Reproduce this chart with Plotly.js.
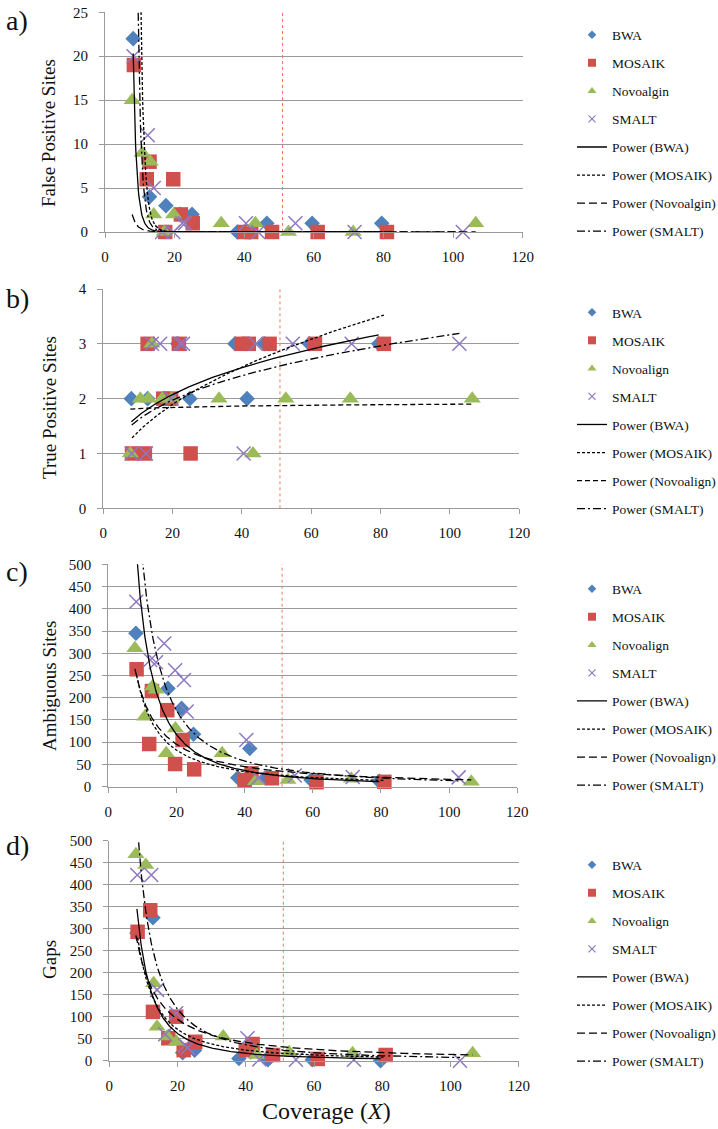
<!DOCTYPE html>
<html><head><meta charset="utf-8">
<script src="https://cdn.plot.ly/plotly-3.0.1.min.js"></script>
<style>html,body{margin:0;padding:0;background:#fff}</style>
</head><body><div id="chart" style="width:718px;height:1129px"></div>
<script>
// ---------------- data ----------------
const aligners = ['BWA', 'MOSAIK', 'Novoalign', 'SMALT'];
const legendNamesA = ['BWA', 'MOSAIK', 'Novoalgin', 'SMALT'];
const legendNames = ['BWA', 'MOSAIK', 'Novoalign', 'SMALT'];

// coverage (X) of each sample, per aligner
const covBWA       = [8.1, 12.8, 17.5, 21.5, 25, 38, 41.5, 46.5, 59.5, 79.5];
const covMOSAIK    = [8.3, 12.0, 12.8, 17.3, 19.6, 21.8, 25.2, 40, 42, 48, 61.1, 81];
const covNovoalign = [7.8, 10.7, 13, 14, 17, 19.7, 33.4, 43.2, 52.7, 71.3, 106.5];
const covSMALT     = [8.2, 12.3, 14, 16.4, 19.6, 22.2, 23, 40.5, 44, 54.7, 71.7, 102.8];

// a) False positive sites
const fpBWA       = [22, 4, 3, 2, 2, 0, 0, 1, 1, 1];
const fpMOSAIK    = [19, 6, 8, 0, 6, 2, 1, 0, 0, 0, 0, 0];
const fpNovoalign = [15, 9, 8, 2, 0, 2, 1, 1, 0, 0, 1];
const fpSMALT     = [20, 11, 5, 0, 0, 1, 1, 1, 0, 1, 0, 0];

// b) True positive sites
const tpBWA       = [2, 2, 2, 3, 2, 3, 2, 3, 3, 3];
const tpMOSAIK    = [1, 1, 3, 2, 2, 3, 1, 3, 3, 3, 3, 3];
const tpNovoalign = [1, 2, 2, 3, 2, 2, 2, 1, 2, 2, 2];
const tpSMALT     = [1, 1, 3, 3, 2, 3, 3, 1, 3, 3, 3, 3];

// c) Ambiguous sites
const ambBWA       = [345, 221, 221, 176, 118, 20, 86, 20, 15, 12];
const ambMOSAIK    = [264, 96, 215, 172, 51, 105, 39, 15, 30, 19, 10, 11];
const ambNovoalign = [311, 157, 225, 218, 75, 131, 75, 12, 15, 18, 11];
const ambSMALT     = [416, 285, 280, 322, 262, 240, 169, 105, 20, 25, 22, 21];

// d) Gaps
const gapBWA       = [290, 325, 55, 18, 24, 5, 20, 2, 2, 0];
const gapMOSAIK    = [293, 342, 111, 51, 100, 24, 43, 24, 38, 13, 4, 13];
const gapNovoalign = [469, 445, 176, 77, 55, 43, 55, 13, 19, 17, 17];
const gapSMALT     = [422, 422, 161, 60, 108, 35, 30, 51, 3, 2, 2, 0];

// power trend lines y = A * x^B  (BWA, MOSAIK, Novoalign, SMALT)
const powerA_fp  = [1.77e9, 8.5e11, 3.9e5, 2.95e11];
const powerB_fp  = [-8.74, -10.4, -5.93, -10.3];
const powerA_tp  = [0.833, 0.503, 1.743, 0.821];
const powerB_tp  = [0.305, 0.443, 0.0185, 0.293];
const powerA_amb = [19076, 3635, 2472, 19030];
const powerB_amb = [-1.7, -1.265, -1.087, -1.572];
const powerA_gap = [18353, 7599, 3224, 19040];
const powerB_gap = [-1.9, -1.56, -1.181, -1.7];

const xTickVals = [0, 20, 40, 60, 80, 100, 120];
const thresholdCoverage = 51;

// ---------------- styles / layout ----------------
const W = 718, H = 1129;
const FONT = 'Liberation Serif';
const GRID = '#9a9a9a';
const covs = [covBWA, covMOSAIK, covNovoalign, covSMALT];

const markerStyles = [
  {symbol: 'diamond', color: '#4F81BD', size: 12, lsize: 6.5},
  {symbol: 'square', color: '#D0504D', size: 14.5, lsize: 8},
  {symbol: 'triangle-up', color: '#9BBB59', size: 15, lsize: 8},
  {symbol: 'x-thin', color: '#8E78BE', size: 14, lsize: 7}
];

const panels = [
  {vals: [fpBWA, fpMOSAIK, fpNovoalign, fpSMALT], pA: powerA_fp, pB: powerB_fp, names: legendNamesA,
   yTitle: 'False Positive Sites', label: 'a)', yRange: [0, 25], dtick: 5,
   xPx: [105, 522.7], yPx: [12.3, 232], legTop: 19.5, labelY: 21, titleY: 133,
   dashes: ['solid', '3px,2px', '8px,4px', '8px,3px,2px,3px']},
  {vals: [tpBWA, tpMOSAIK, tpNovoalign, tpSMALT], pA: powerA_tp, pB: powerB_tp, names: legendNames,
   yTitle: 'True Positive Sites', label: 'b)', yRange: [0, 4], dtick: 1,
   xPx: [103.3, 519], yPx: [289, 508.3], legTop: 297, labelY: 298, titleY: 408,
   dashes: ['solid', '3px,2px', '5px,3px', '8px,3px,2px,3px']},
  {vals: [ambBWA, ambMOSAIK, ambNovoalign, ambSMALT], pA: powerA_amb, pB: powerB_amb, names: legendNames,
   yTitle: 'Ambiguous Sites', label: 'c)', yRange: [0, 500], dtick: 50,
   xPx: [108.3, 517.3], yPx: [564.3, 786.7], legTop: 573.5, labelY: 571, titleY: 686,
   dashes: ['solid', '3px,2px', '8px,4px', '8px,3px,2px,3px']},
  {vals: [gapBWA, gapMOSAIK, gapNovoalign, gapSMALT], pA: powerA_gap, pB: powerB_gap, names: legendNames,
   yTitle: 'Gaps', label: 'd)', yRange: [0, 500], dtick: 50,
   xPx: [109.3, 518.7], yPx: [840.7, 1060.7], legTop: 849.5, labelY: 845, titleY: 960,
   dashes: ['solid', '3px,2px', '8px,4px', '8px,3px,2px,3px']}
];

function powerCurve(A, B, xs) {
  const lo = Math.min(...xs), hi = Math.max(...xs), n = 200;
  const x = [], y = [];
  for (let k = 0; k <= n; k++) {
    const xv = lo * Math.pow(hi / lo, k / n);
    x.push(xv); y.push(A * Math.pow(xv, B));
  }
  return {x, y};
}

const traces = [];
const layout = {
  width: W, height: H,
  margin: {l: 0, r: 0, t: 0, b: 0, autoexpand: false},
  paper_bgcolor: '#fff', plot_bgcolor: '#fff',
  font: {family: FONT, size: 15, color: '#111'},
  showlegend: true,
  shapes: [], annotations: []
};

panels.forEach((p, i) => {
  const s = i === 0 ? '' : String(i + 1);
  const xa = 'x' + s, ya = 'y' + s, lg = 'legend' + s;
  p.vals.forEach((v, j) => {
    const ms = markerStyles[j];
    traces.push({
      type: 'scatter', mode: 'markers', x: covs[j], y: v, xaxis: xa, yaxis: ya,
      showlegend: false, cliponaxis: false, hoverinfo: 'x+y',
      marker: {symbol: ms.symbol, size: ms.size, color: ms.color,
               line: {width: j === 3 ? 1.5 : 0, color: ms.color}}
    });
  });
  p.pA.forEach((A, j) => {
    const c = powerCurve(A, p.pB[j], covs[j]);
    traces.push({
      type: 'scatter', mode: 'lines', x: c.x, y: c.y, xaxis: xa, yaxis: ya,
      showlegend: false, hoverinfo: 'skip',
      line: {color: '#000', width: 1.3, dash: p.dashes[j]}
    });
  });
  p.names.forEach((nm, j) => {
    const ms = markerStyles[j];
    traces.push({
      type: 'scatter', mode: 'markers', x: [null], y: [null], xaxis: xa, yaxis: ya,
      name: nm, legend: lg, legendgroup: 'm' + i + j,
      marker: {symbol: ms.symbol, size: ms.lsize, color: ms.color,
               line: {width: j === 3 ? 1.2 : 0, color: ms.color}}
    });
  });
  p.names.forEach((nm, j) => {
    traces.push({
      type: 'scatter', mode: 'lines', x: [null], y: [null], xaxis: xa, yaxis: ya,
      name: 'Power (' + nm + ')', legend: lg, legendgroup: 'l' + i + j,
      line: {color: '#000', width: 1.3, dash: p.dashes[j]}
    });
  });

  layout['xaxis' + s] = {
    domain: [p.xPx[0] / W, p.xPx[1] / W], anchor: ya, range: [0, 120],
    tickvals: xTickVals, ticktext: xTickVals.map(String),
    showgrid: false, zeroline: false, showline: true, linecolor: GRID, linewidth: 1,
    ticks: 'outside', ticklen: 5, tickcolor: GRID, tickwidth: 1,
    ticklabelstandoff: 6, automargin: false,
    tickfont: {family: FONT, size: 15, color: '#111'}, fixedrange: true
  };
  layout['yaxis' + s] = {
    domain: [1 - p.yPx[1] / H, 1 - p.yPx[0] / H], anchor: xa, range: p.yRange,
    dtick: p.dtick, tick0: 0,
    showgrid: true, gridcolor: GRID, gridwidth: 1, zeroline: false,
    showline: true, linecolor: GRID, linewidth: 1,
    ticks: 'outside', ticklen: 5, tickcolor: GRID, tickwidth: 1,
    ticklabelstandoff: 8, automargin: false,
    tickfont: {family: FONT, size: 15, color: '#111'}, fixedrange: true
  };
  layout[lg] = {
    x: 572 / W, xanchor: 'left', y: 1 - p.legTop / H, yanchor: 'top',
    bgcolor: 'rgba(0,0,0,0)', borderwidth: 0,
    font: {family: FONT, size: 13.5, color: '#111'},
    traceorder: 'grouped', tracegroupgap: 7.5, itemclick: false, itemdoubleclick: false
  };
  layout.shapes.push({
    type: 'line', xref: xa, yref: ya + ' domain', x0: thresholdCoverage, x1: thresholdCoverage,
    y0: 0, y1: 1, layer: 'below', line: {color: '#EF7A5E', width: 1, dash: 'dot'}
  });
  layout.annotations.push({
    text: p.label, xref: 'paper', yref: 'paper', x: 4 / W, y: 1 - p.labelY / H,
    xanchor: 'left', yanchor: 'middle', showarrow: false,
    font: {family: FONT, size: 28, color: '#111'}
  });
  layout.annotations.push({
    text: p.yTitle, xref: 'paper', yref: 'paper', x: 49 / W, y: 1 - p.titleY / H,
    xanchor: 'center', yanchor: 'middle', showarrow: false, textangle: -90,
    font: {family: FONT, size: 19, color: '#111'}
  });
});

layout.annotations.push({
  text: 'Coverage (<i>X</i>)', xref: 'paper', yref: 'paper', x: 326 / W, y: 1 - 1111 / H,
  xanchor: 'center', yanchor: 'middle', showarrow: false,
  font: {family: FONT, size: 24, color: '#111'}
});

Plotly.newPlot('chart', traces, layout, {staticPlot: true, displayModeBar: false});
</script>
</body></html>
